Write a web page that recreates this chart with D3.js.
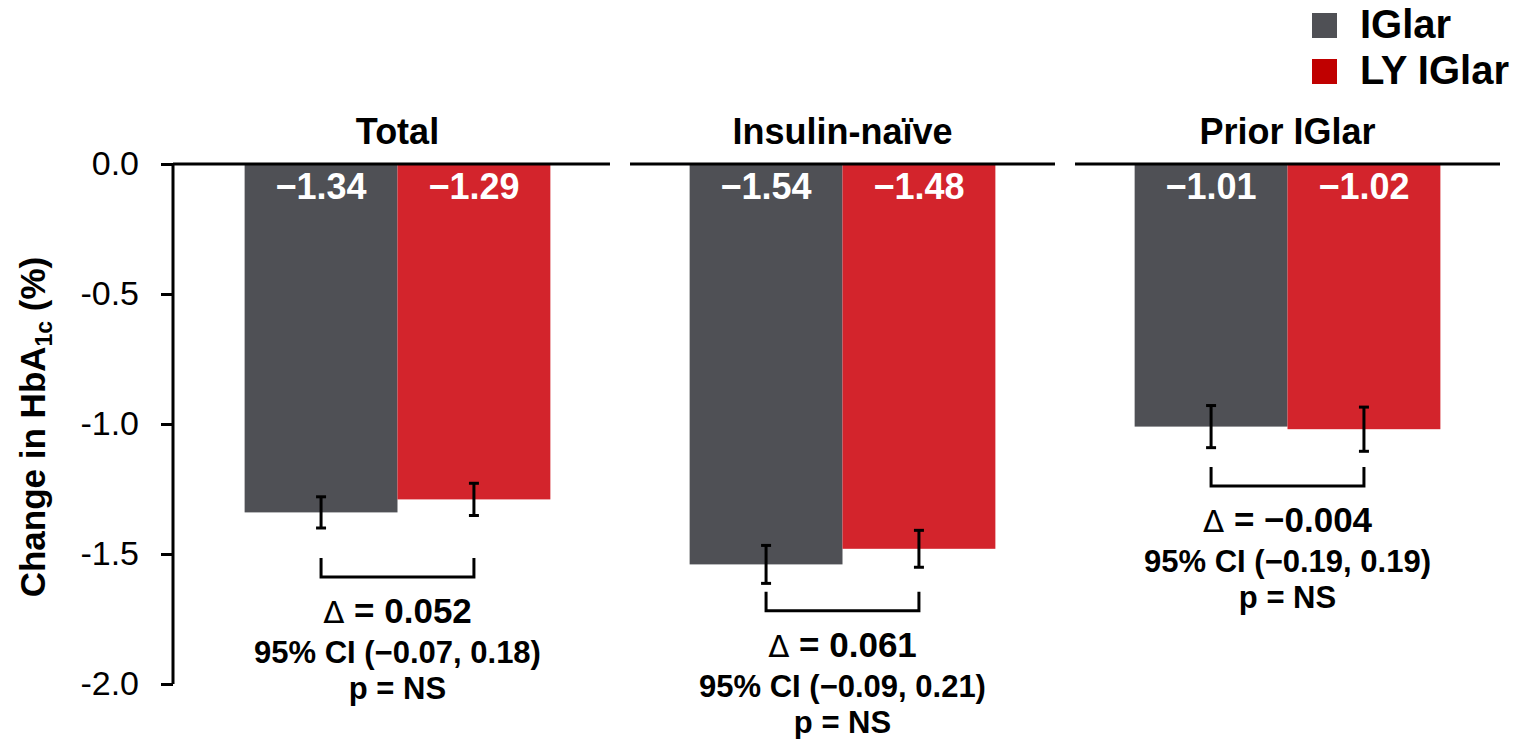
<!DOCTYPE html>
<html>
<head>
<meta charset="utf-8">
<script src="https://cdn.jsdelivr.net/npm/d3@7"></script>
<style>
  body { margin: 0; background: #fff; }
  text { font-family: "Liberation Sans", Arial, sans-serif; }
</style>
</head>
<body>
<div id="main-canvas"></div>
<script>
// Data
const groups = ["Total", "Insulin-naïve", "Prior IGlar"];
const series = ["IGlar", "LY IGlar"];
const iglar = [-1.34, -1.54, -1.01];
const lyIglar = [-1.29, -1.48, -1.02];
const iglarErr = [0.06, 0.073, 0.081];
const lyIglarErr = [0.062, 0.071, 0.085];
const deltaText = ["0.052", "0.061", "\u22120.004"];
const ciText = ["95% CI (\u22120.07, 0.18)", "95% CI (\u22120.09, 0.21)", "95% CI (\u22120.19, 0.19)"];
const pText = ["p = NS", "p = NS", "p = NS"];
const bracketLevel = [-1.515, -1.645, -1.165]; // where the comparison bracket sits
const yTicks = [0, -0.5, -1.0, -1.5, -2.0];

const colors = { "IGlar": "#4f5055", "LY IGlar": "#d3242c" };
const legendColors = { "IGlar": "#4f5055", "LY IGlar": "#c00000" };

let width = 1518, height = 739;

let svg = d3.select("#main-canvas").append("svg")
    .attr("width", width)
    .attr("height", height);

let y = d3.scaleLinear().domain([0, -2]).range([164, 684]);

let x0 = d3.scaleBand().domain(groups).range([185, 1500]).paddingInner(0.045);
let x1 = d3.scaleBand().domain(series).range([0, x0.bandwidth()]).paddingOuter(0.39);

// rows for bars
let rows = [];
groups.forEach((g, i) => {
    rows.push({ group: g, s: "IGlar", v: iglar[i], e: iglarErr[i] });
    rows.push({ group: g, s: "LY IGlar", v: lyIglar[i], e: lyIglarErr[i] });
});

// bars
svg.append("g").selectAll("rect")
    .data(rows)
    .enter().append("rect")
    .attr("x", d => x0(d.group) + x1(d.s))
    .attr("y", y(0))
    .attr("width", x1.bandwidth())
    .attr("height", d => y(d.v) - y(0))
    .attr("fill", d => colors[d.s]);

// value labels inside the bars
svg.append("g").selectAll("text")
    .data(rows)
    .enter().append("text")
    .attr("x", d => x0(d.group) + x1(d.s) + x1.bandwidth() / 2)
    .attr("y", y(0) + 35)
    .attr("text-anchor", "middle")
    .attr("fill", "#fff")
    .attr("font-weight", "bold")
    .attr("font-size", 36)
    .text(d => "\u2212" + Math.abs(d.v).toFixed(2));

// zero line, broken per group
svg.append("g").selectAll("line")
    .data(groups)
    .enter().append("line")
    .attr("x1", (d, i) => i === 0 ? 173 : x0(d))
    .attr("x2", d => x0(d) + x0.bandwidth())
    .attr("y1", y(0))
    .attr("y2", y(0))
    .attr("stroke", "#000")
    .attr("stroke-width", 3);

// error bars
let cx = d => x0(d.group) + x1(d.s) + x1.bandwidth() / 2;
let eb = svg.append("g").attr("stroke", "#000").attr("stroke-width", 3);
eb.selectAll(".stem").data(rows).enter().append("line")
    .attr("x1", cx).attr("x2", cx)
    .attr("y1", d => y(d.v + d.e)).attr("y2", d => y(d.v - d.e));
eb.selectAll(".capT").data(rows).enter().append("line")
    .attr("x1", d => cx(d) - 5).attr("x2", d => cx(d) + 5)
    .attr("y1", d => y(d.v + d.e)).attr("y2", d => y(d.v + d.e));
eb.selectAll(".capB").data(rows).enter().append("line")
    .attr("x1", d => cx(d) - 5).attr("x2", d => cx(d) + 5)
    .attr("y1", d => y(d.v - d.e)).attr("y2", d => y(d.v - d.e));

// comparison brackets + stats text
groups.forEach((g, i) => {
    let xa = x0(g) + x1("IGlar") + x1.bandwidth() / 2;
    let xb = x0(g) + x1("LY IGlar") + x1.bandwidth() / 2;
    let top = y(bracketLevel[i]);
    let bot = top + 19;
    svg.append("path")
        .attr("d", `M${xa},${top}V${bot}H${xb}V${top}`)
        .attr("fill", "none")
        .attr("stroke", "#000")
        .attr("stroke-width", 3);

    let mid = x0(g) + x0.bandwidth() / 2;
    let t = svg.append("text")
        .attr("x", mid)
        .attr("y", bot + 46)
        .attr("text-anchor", "middle")
        .attr("font-weight", "bold")
        .attr("font-size", 35);
    t.append("tspan").attr("font-weight", "normal").attr("font-family", "DejaVu Sans").attr("font-size", 31).text("\u0394");
    t.append("tspan").text(" = " + deltaText[i]);

    svg.append("text")
        .attr("x", mid)
        .attr("y", bot + 86)
        .attr("text-anchor", "middle")
        .attr("font-weight", "bold")
        .attr("font-size", 31)
        .text(ciText[i]);

    svg.append("text")
        .attr("x", mid)
        .attr("y", bot + 122)
        .attr("text-anchor", "middle")
        .attr("font-weight", "bold")
        .attr("font-size", 31)
        .text(pText[i]);
});

// group titles
svg.append("g").selectAll("text")
    .data(groups)
    .enter().append("text")
    .attr("x", d => x0(d) + x0.bandwidth() / 2)
    .attr("y", 144)
    .attr("text-anchor", "middle")
    .attr("font-weight", "bold")
    .attr("font-size", 36)
    .text(d => d);

// y axis
let yAxis = svg.append("g")
    .attr("transform", "translate(173,0)")
    .call(d3.axisLeft(y).tickValues(yTicks).tickFormat(d => d.toFixed(1)).tickSize(12).tickSizeOuter(0).tickPadding(22));
yAxis.select(".domain").attr("stroke-width", 3).attr("d", `M0,${y(0)}V${y(-2)}`);
yAxis.selectAll(".tick line").attr("stroke-width", 3);
yAxis.selectAll(".tick text")
    .attr("font-size", 34)
    .attr("font-family", "Liberation Sans, Arial, sans-serif")
    .attr("fill", "#000");

// y label
let yl = svg.append("text")
    .attr("transform", `translate(45,${(y(0) + y(-2)) / 2 + 3}) rotate(-90)`)
    .attr("text-anchor", "middle")
    .attr("font-weight", "bold")
    .attr("font-size", 35);
yl.append("tspan").text("Change in HbA");
yl.append("tspan").attr("font-size", 23).attr("dy", 7).text("1c");
yl.append("tspan").attr("dy", -7).text(" (%)");

// legend
let legend = svg.append("g").selectAll("g")
    .data(series)
    .enter().append("g")
    .attr("transform", (d, i) => `translate(1312,${13 + i * 46})`);
legend.append("rect")
    .attr("width", 25).attr("height", 25)
    .attr("fill", d => legendColors[d]);
legend.append("text")
    .attr("x", 48).attr("y", 25)
    .attr("font-weight", "bold")
    .attr("font-size", 40)
    .text(d => d);
</script>
</body>
</html>
